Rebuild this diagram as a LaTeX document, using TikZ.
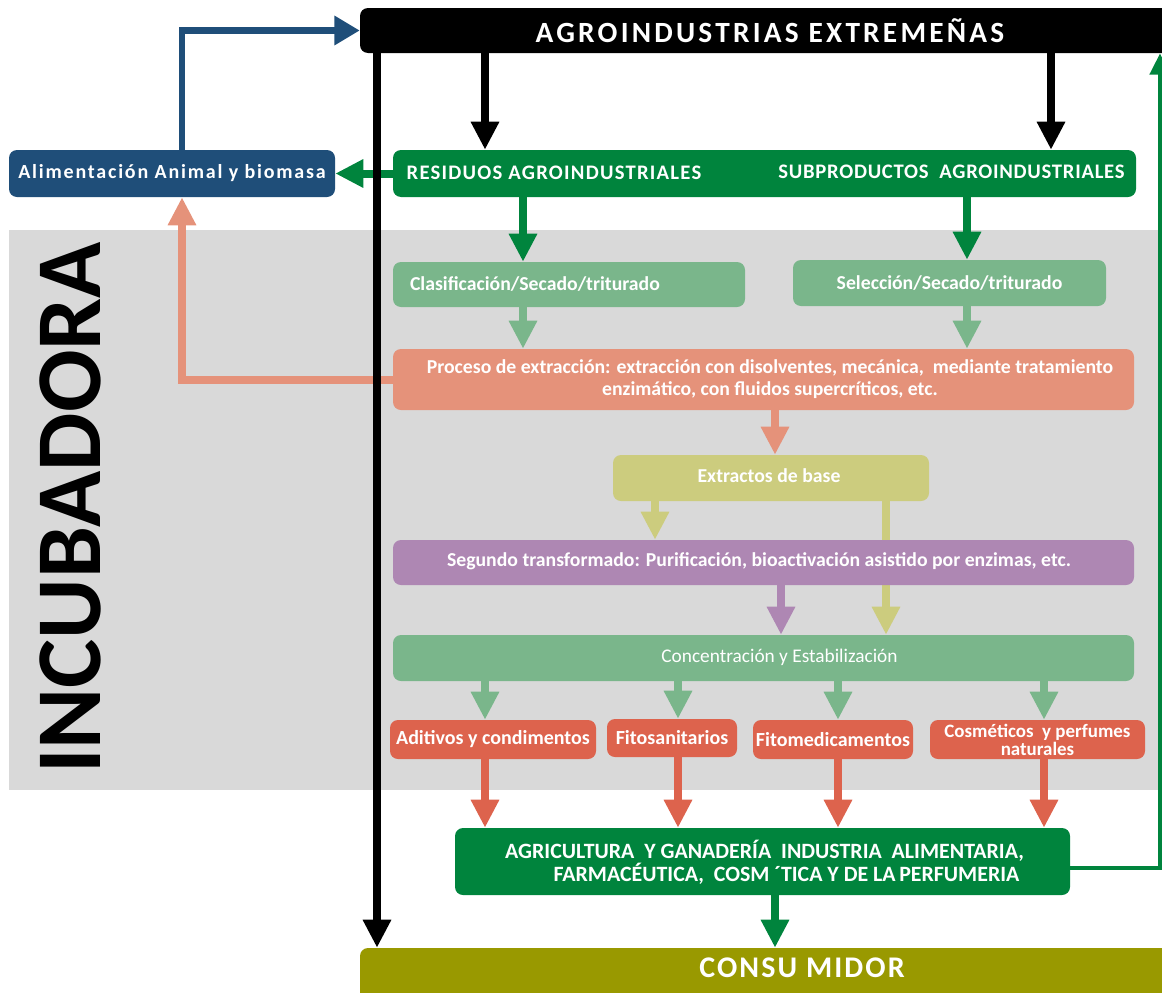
\documentclass[tikz,border=0pt]{standalone}
\usepackage{fontspec}
\setmainfont{Carlito}
\usetikzlibrary{arrows.meta}
\definecolor{cDG}{RGB}{0,132,61}
\definecolor{cBlue}{RGB}{31,78,121}
\definecolor{cLG}{RGB}{122,182,139}
\definecolor{cSal}{RGB}{229,146,122}
\definecolor{cYel}{RGB}{204,204,126}
\definecolor{cPur}{RGB}{174,135,179}
\definecolor{cRed}{RGB}{221,99,77}
\definecolor{cOl}{RGB}{153,153,0}
\definecolor{cGray}{RGB}{217,217,217}
\pgfdeclarelayer{back}
\pgfdeclarelayer{bg}
\pgfsetlayers{back,bg,main}
\begin{document}
\begin{tikzpicture}[x=0.75pt,y=-0.75pt,
  box/.style={rounded corners=6pt, inner sep=0pt, text=white, font=\bfseries\fontsize{14.8}{16.5}\selectfont},
  lbl/.style={inner sep=0pt, text=white, font=\bfseries\fontsize{14.8}{16.5}\selectfont},
  caps/.style={inner sep=0pt, text=white, font=\bfseries\fontsize{15.5}{18}\selectfont\addfontfeature{LetterSpace=6}},
  redbox/.style={box, fill=cRed, font=\bfseries\fontsize{15}{12.75}\selectfont},
  arrK/.style={draw=black, line width=6pt, -{Triangle[width=20pt,length=21pt]}},
  arrG/.style={draw=cDG, line width=6pt, -{Triangle[width=20pt,length=21pt]}},
  arrLG/.style={draw=cLG, line width=6pt, -{Triangle[width=20pt,length=21pt]}},
  arrS/.style={draw=cSal, line width=6pt, -{Triangle[width=20pt,length=21pt]}},
  arrY/.style={draw=cYel, line width=6pt, -{Triangle[width=20pt,length=21pt]}},
  arrP/.style={draw=cPur, line width=6pt, -{Triangle[width=20pt,length=21pt]}},
  arrR/.style={draw=cRed, line width=6pt, -{Triangle[width=20pt,length=21pt]}},
  arrB/.style={draw=cBlue, line width=5pt, -{Triangle[width=21pt,length=19pt]}},
  arrGt/.style={draw=cDG, line width=3.5pt, -{Triangle[width=15pt,length=16pt]}}
]
\useasboundingbox (0,0) rectangle (1162,992);
\begin{pgfonlayer}{back}
\fill[cGray] (9,230) rectangle (1158,790);
\end{pgfonlayer}
\node[rotate=90, inner sep=0pt, font=\bfseries\fontsize{69.5}{72}\selectfont] (inc) at (70,508) {INCUBADORA};

% top
\node[box, fill=black, minimum width=615pt, minimum height=33.75pt] (top) at (770,30.5) {};
\node[inner sep=0pt, text=white, font=\bfseries\fontsize{22}{26}\selectfont\addfontfeature{LetterSpace=11}] (toptxt) at (770,31) {AGROINDUSTRIAS EXTREMEÑAS};

\node[box, fill=cBlue, minimum width=244.5pt, minimum height=35.25pt, font=\bfseries\fontsize{15}{18}\selectfont\addfontfeature{LetterSpace=9}] (ali) at (172,173.5) {Alimentación Animal y biomasa};

\node[box, fill=cDG, minimum width=557.25pt, minimum height=35.25pt] (res) at (764.5,173.5) {};
\node[caps] (restxt) at (554,173) {RESIDUOS AGROINDUSTRIALES};
\node[caps, font=\bfseries\fontsize{15.5}{18}\selectfont\addfontfeature{LetterSpace=3.5}] (subtxt) at (951.5,172) {SUBPRODUCTOS\ \ AGROINDUSTRIALES};

\node[box, fill=cLG, inner xsep=12.75pt, text width=238.5pt, align=left, minimum height=33.75pt] (cla) at (569,284.5) {Clasificación/Secado/triturado};
\node[box, fill=cLG, minimum width=234.75pt, minimum height=34.5pt] (sel) at (949.5,283) {Selección/Secado/triturado};

\node[box, fill=cSal, minimum width=555.75pt, minimum height=45.75pt] (proc) at (763.5,379.5) {};
\node[lbl, align=center] (proctxt) at (770,379) {Proceso de extracción: extracción con disolventes, mecánica,\ \ mediante tratamiento\\ enzimático, con fluidos supercríticos, etc.};

\node[box, fill=cYel, minimum width=237pt, minimum height=34.5pt] (ext) at (771,478) {};
\node[lbl] (exttxt) at (769,476) {Extractos de base};

\node[box, fill=cPur, minimum width=555.75pt, minimum height=33.75pt] (seg) at (763.5,562.5) {};
\node[lbl] (segtxt) at (759,561) {Segundo transformado: Purificación, bioactivación asistido por enzimas, etc.};

\node[box, fill=cLG, minimum width=555.75pt, minimum height=34.5pt] (conc) at (763.5,658) {};
\node[lbl, font=\fontsize{14.5}{16}\selectfont] (conctxt) at (779.5,657) {Concentración y Estabilización};

\node[redbox, minimum width=154.5pt, minimum height=29.25pt] (adi) at (493,739.5) {Aditivos y condimentos};
\node[redbox, minimum width=97.5pt, minimum height=28.5pt] (fsan) at (672,738) {Fitosanitarios};
\node[redbox, minimum width=120pt, minimum height=29.25pt] (fmed) at (833,739.5) {Fitomedicamentos};
\node[redbox, minimum width=161.25pt, minimum height=29.25pt, align=center, font=\bfseries\fontsize{14.2}{13.6}\selectfont] (cos) at (1037.5,739.5) {Cosméticos\ \ y perfumes\\naturales};

\node[box, fill=cDG, minimum width=461.25pt, minimum height=50.25pt] (agri) at (762.5,861.5) {};
\node[lbl, font=\bfseries\fontsize{16.4}{18}\selectfont] (agri1) at (764.5,851) {AGRICULTURA\ \ Y GANADERÍA\ \ INDUSTRIA\ \ ALIMENTARIA,};
\node[lbl, font=\bfseries\fontsize{16.4}{18}\selectfont] (agri2) at (786.5,874) {FARMACÉUTICA,\ \ COSM ´TICA Y DE LA\,PERFUMERIA};

\node[box, fill=cOl, minimum width=615pt, minimum height=39pt] (cons) at (770,974) {};
\node[inner sep=0pt, text=white, font=\bfseries\fontsize{22.5}{26}\selectfont\addfontfeature{LetterSpace=7}] (constxt) at (802,968) {CONSU MIDOR};

% connectors
\begin{pgfonlayer}{bg}
\draw[arrY] (886,0 |- ext.south) -- (886,0 |- conc.north);
\end{pgfonlayer}
\draw[arrK] (485,0 |- top.south) -- (485,0 |- res.north);
\draw[arrK] (1051,0 |- top.south) -- (1051,0 |- res.north);
\draw[arrG] (res.west) -- (ali.east);
\draw[arrB] (182,0 |- ali.north) |- (top.west);
\draw[arrG] (523,0 |- res.south) -- (523,0 |- cla.north);
\draw[arrG] (967,0 |- res.south) -- (967,0 |- sel.north);
\draw[arrLG] (523,0 |- cla.south) -- (523,0 |- proc.north);
\draw[arrLG] (967,0 |- sel.south) -- (967,0 |- proc.north);
\draw[arrS] (proc.west) -| (182,0 |- ali.south);
\draw[arrS] (775,0 |- proc.south) -- (775,0 |- ext.north);
\draw[arrY] (655,0 |- ext.south) -- (655,0 |- seg.north);
\draw[arrP] (781,0 |- seg.south) -- (781,0 |- conc.north);
\foreach \xx/\bx in {485/adi, 678/fsan, 838/fmed, 1044/cos} {
  \draw[arrLG] (\xx,0 |- conc.south) -- (\xx,0 |- \bx.north);
  \draw[arrR] (\xx,0 |- \bx.south) -- (\xx,0 |- agri.north);
}
\draw[arrG] (775,0 |- agri.south) -- (775,0 |- cons.north);
\coordinate (rg) at (1160,868);
\draw[arrGt] (agri.east |- rg) -- (rg) -- (rg |- top.south);
\draw[arrK] (377,0 |- top.south) -- (377,0 |- cons.north);
\end{tikzpicture}
\end{document}
